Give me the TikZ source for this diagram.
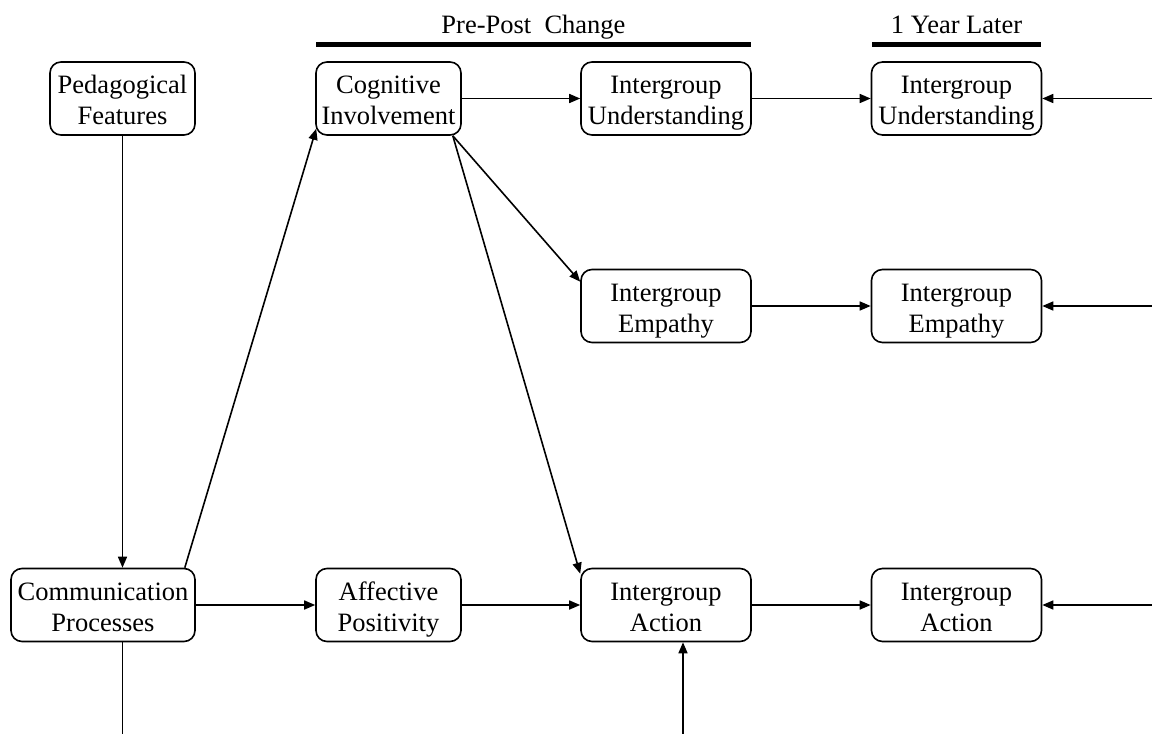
\documentclass[tikz,border=0pt]{standalone}
\usepackage{fontspec}
\setmainfont{Liberation Serif}
\usetikzlibrary{arrows.meta}
% two-line label, lowered inside its box without changing the box's size
\newcommand\boxtext[1]{\raisebox{-4.5pt}[\height][\depth]{\begin{tabular}{@{}c@{}}#1\end{tabular}}}
\begin{document}
\begin{tikzpicture}[x=1pt,y=-1pt,
  box/.style={draw, line width=1.6pt, rounded corners=11pt, align=center,
    inner sep=0pt, minimum height=73pt, font=\fontsize{26.5}{31}\selectfont},
  narrow/.style={box, minimum width=145pt},
  wide/.style={box, minimum width=170pt},
  arr/.style={line width=1.6pt, -{Triangle[length=11pt,width=9pt]}},
  plain/.style={line width=1.6pt},
  bar/.style={line width=4.5pt},
  head/.style={font=\fontsize{26.5}{31}\selectfont, inner sep=0pt, anchor=base}]
\useasboundingbox (0,0) rectangle (1152,734);

% period headers
\node[head] (hpre) at (533.5,33) {Pre-Post\ \ Change};
\node[head] (hpost) at (956.5,33) {1 Year Later};
\draw[bar] (316,44.5) -- (751,44.5);
\draw[bar] (872,44.5) -- (1041,44.5);

% boxes
\node[narrow] (ped) at (122.5,98.5) {\boxtext{Pedagogical\\Features}};
\node[narrow] (cog) at (388.5,98.5) {\boxtext{Cognitive\\Involvement}};
\node[wide] (und1) at (666,98.5) {\boxtext{Intergroup\\Understanding}};
\node[wide] (und2) at (956.5,98.5) {\boxtext{Intergroup\\Understanding}};
\node[wide] (emp1) at (666,306) {\boxtext{Intergroup\\Empathy}};
\node[wide] (emp2) at (956.5,306) {\boxtext{Intergroup\\Empathy}};
\node[box, minimum width=184pt] (comm) at (103,605) {\boxtext{Communication\\Processes}};
\node[narrow] (aff) at (388.5,605) {\boxtext{Affective\\Positivity}};
\node[wide] (act1) at (666,605) {\boxtext{Intergroup\\Action}};
\node[wide] (act2) at (956.5,605) {\boxtext{Intergroup\\Action}};

% free ends at the picture border
\coordinate (rU) at (1152,98.5);
\coordinate (rE) at (1152,306);
\coordinate (rA) at (1152,605);
\coordinate (bC) at (122.5,734);
\coordinate (bA) at (683,734);

% connectors
\draw[arr] (ped.south) -- (ped.south |- comm.north);
\draw[arr] ([xshift=-11pt]comm.north east) -- ([xshift=1pt,yshift=7pt]cog.south west);
\draw[arr] (cog.east) -- (und1.west);
\draw[arr] (und1.east) -- (und2.west);
\draw[arr] (rU) -- (und2.east);
\draw[arr] ([xshift=-9pt]cog.south east) -- ([yshift=-13pt]emp1.north west);
\draw[arr] ([xshift=-9pt]cog.south east) -- ([yshift=-6pt]act1.north west);
\draw[arr] (emp1.east) -- (emp2.west);
\draw[arr] (rE) -- (emp2.east);
\draw[arr] (comm.east) -- (aff.west);
\draw[arr] (aff.east) -- (act1.west);
\draw[arr] (act1.east) -- (act2.west);
\draw[arr] (rA) -- (act2.east);
\draw[plain] (comm.south -| bC) -- (bC);
\draw[arr] (bA) -- (bA |- act1.south);
\end{tikzpicture}
\end{document}
